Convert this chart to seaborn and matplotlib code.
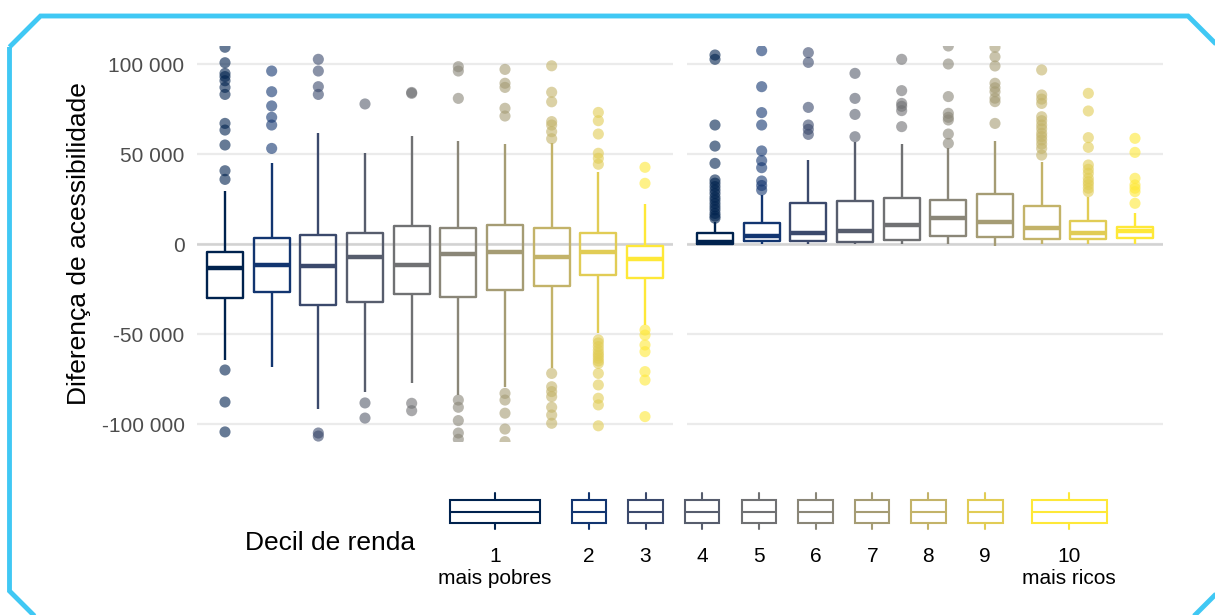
import numpy as np
import pandas as pd
import seaborn as sns
import matplotlib as mpl
import matplotlib.pyplot as plt
from matplotlib.patches import Polygon, Rectangle
from matplotlib.ticker import FuncFormatter

# DECIS DE RENDA
decis = ['1', '2', '3', '4', '5', '6', '7', '8', '9', '10']
rotulos_extra = {'1': 'mais pobres', '10': 'mais ricos'}

# PAINEL A (ESQUERDA) - RESUMO DOS BOXPLOTS
a_lim_inf = [-64400, -68300, -91700, -82200, -77000, -83900, -79300, -69000, -49600, -45000]
a_q1 = [-30000, -26700, -33900, -32200, -27800, -29300, -25600, -23300, -17200, -18700]
a_mediana = [-13300, -11700, -12200, -7200, -11700, -5700, -4300, -7000, -4600, -8300]
a_q3 = [-4300, 3300, 5000, 6100, 10200, 9000, 10600, 9000, 5900, -1100]
a_lim_sup = [29200, 44800, 61500, 50400, 60000, 57400, 55600, 55900, 40200, 22200]
a_outliers = [
    [-70000, -87800, -104400, 35900, 40700, 55000, 63300, 67000, 83100, 87000, 90700, 93000, 94800, 100700, 109300],
    [53100, 66100, 70400, 76700, 84600, 96100],
    [-105000, -106700, 83100, 87400, 96100, 102600],
    [-88300, -96700, 77800],
    [-88500, -92600, 83700, 84200],
    [-86700, -90700, -98100, -105000, -108500, 80900, 96100, 98500],
    [-83000, -86700, -94000, -102800, -109800, 71100, 75400, 87000, 89300, 97000],
    [-71900, -79300, -82000, -84800, -90700, -95000, -99600, 58500, 62400, 66100, 68000, 79000, 84300, 99000],
    [-53300, -55000, -57000, -59000, -60700, -62000, -63500, -65000, -66300, -71900, -78300, -85700, -89400,
     -101000, 44300, 47600, 50400, 61100, 68500, 73100],
    [-47800, -50600, -56100, -59800, -70900, -75600, -95900, 33700, 42600],
]

# PAINEL B (DIREITA)
b_lim_inf = [0, 0, 0, 0, 0, 0, -1100, 0, 0, 0]
b_q1 = [0, 1700, 1700, 1300, 2200, 4400, 4100, 2600, 2800, 3100]
b_mediana = [1000, 4400, 5900, 7400, 10400, 14600, 12400, 8700, 6300, 7400]
b_q3 = [5900, 11900, 22600, 24100, 25700, 24400, 27600, 21100, 12800, 9600]
b_lim_sup = [12400, 27200, 46700, 56900, 55600, 53100, 57200, 45700, 26300, 17000]
b_outliers = [
    [14300, 15500, 17000, 19000, 20700, 22500, 24400, 26000, 28100, 30000, 31900, 33800, 35600, 44800, 54400,
     66100, 102600, 105000],
    [30000, 32500, 35000, 42400, 46300, 51700, 66100, 73000, 87400, 107400],
    [60900, 63700, 66100, 75900, 100900, 106300],
    [59600, 72000, 80900, 94800],
    [65200, 74100, 76500, 78100, 85200, 102600],
    [55900, 61100, 68900, 70400, 72600, 81900, 100000, 110000],
    [67000, 79100, 81000, 84600, 86800, 89300, 98900, 104000, 109300],
    [49400, 53100, 55500, 57800, 59700, 61500, 64000, 66100, 68500, 70700, 78100, 80500, 82800, 96700],
    [29100, 31000, 33000, 34600, 36500, 39300, 41500, 43900, 53700, 59100, 73900, 83700],
    [22600, 29100, 31000, 32800, 36500, 50900, 58700],
]


def monta_caixas(lim_inf, q1, mediana, q3, lim_sup):
    # 5 VALORES POR DECIL: COM whis=(0, 100) O BOXPLOT REPRODUZ O RESUMO
    linhas = []
    for i, d in enumerate(decis):
        for v in (lim_inf[i], q1[i], mediana[i], q3[i], lim_sup[i]):
            linhas.append({'decil': d, 'valor': v})
    return pd.DataFrame(linhas)


def monta_pontos(outliers):
    linhas = [{'decil': d, 'valor': v} for d, lista in zip(decis, outliers) for v in lista]
    return pd.DataFrame(linhas)


sns.set_style('white')
plt.rcParams['font.family'] = ['Liberation Sans', 'DejaVu Sans']

cores = [mpl.colormaps['cividis'](v) for v in np.linspace(0, 1, 10)]
paleta = dict(zip(decis, cores))

W, H = 1215, 615
fig = plt.figure(figsize=(W / 100, H / 100), dpi=100)
ax_a = fig.add_axes([197 / W, 1 - 442 / H, 476 / W, 396 / H])
ax_b = fig.add_axes([687 / W, 1 - 442 / H, 476 / W, 396 / H], sharey=ax_a)

paineis = [
    (ax_a, monta_caixas(a_lim_inf, a_q1, a_mediana, a_q3, a_lim_sup), monta_pontos(a_outliers)),
    (ax_b, monta_caixas(b_lim_inf, b_q1, b_mediana, b_q3, b_lim_sup), monta_pontos(b_outliers)),
]

for ax, caixas, pontos in paineis:
    ax.axhline(0, color='#d2d2d2', lw=1.8, zorder=1)
    sns.boxplot(data=caixas, x='decil', y='valor', hue='decil', order=decis, hue_order=decis,
                palette=paleta, fill=False, whis=(0, 100), showfliers=False, showcaps=False, width=0.77,
                linewidth=1.7, medianprops={'linewidth': 3.2}, legend=False, ax=ax)
    sns.stripplot(data=pontos, x='decil', y='valor', hue='decil', order=decis, hue_order=decis,
                  palette=paleta, jitter=False, size=8, alpha=0.6, linewidth=0, legend=False, ax=ax)
    ax.set_xlim(-0.6, 9.6)
    ax.set_ylim(-110000, 110000)
    ax.set_yticks([-100000, -50000, 0, 50000, 100000])
    ax.yaxis.grid(True, color='#ebebeb', lw=1.6)
    ax.xaxis.grid(False)
    ax.set_axisbelow(True)
    for s in ax.spines.values():
        s.set_visible(False)
    ax.set_xticks([])
    ax.set_xlabel('')
    ax.set_ylabel('')
    ax.tick_params(length=0, pad=9, labelsize=15, labelcolor='#4d4d4d')

ax_a.yaxis.set_major_formatter(FuncFormatter(lambda v, p: f"{int(v):,}".replace(',', ' ')))
ax_a.set_ylabel('Diferença de acessibilidade', fontsize=19, color='black')
ax_a.yaxis.set_label_coords(-0.223, 0.5)
ax_b.tick_params(labelleft=False)

# CAMADA PARA LEGENDA E MOLDURA, EM PIXELS
ov = fig.add_axes([0, 0, 1, 1], zorder=5)
ov.set_xlim(0, W)
ov.set_ylim(H, 0)
ov.axis('off')

moldura = [(9.5, 47), (40.5, 16), (1188, 16), (1219, 47), (1219, 591), (1188, 622), (40.5, 622), (9.5, 591)]
ov.add_patch(Polygon(moldura, closed=True, fill=False, ec='#40c8f4', lw=3.5, clip_on=False))

centros = [495, 588.8, 645.5, 702.2, 758.9, 815.5, 872.2, 928.4, 985.2, 1069]
larguras = [90, 34.5, 34.5, 34.5, 34.5, 34.5, 34.5, 34.5, 35, 75]
ov.text(245, 543, 'Decil de renda', fontsize=19, ha='left', va='center', color='black')
for d, cx, lw_ in zip(decis, centros, larguras):
    cor = paleta[d]
    ov.add_patch(Rectangle((cx - lw_ / 2, 500), lw_, 22.7, fill=False, ec=cor, lw=1.5))
    ov.plot([cx - lw_ / 2, cx + lw_ / 2], [511.7, 511.7], color=cor, lw=1.5)
    ov.plot([cx, cx], [493.3, 500], color=cor, lw=1.5)
    ov.plot([cx, cx], [522.7, 529.3], color=cor, lw=1.5)
    ov.text(cx, 556, d, fontsize=15, ha='center', va='center', color='black')
    if d in rotulos_extra:
        ov.text(cx, 579, rotulos_extra[d], fontsize=15, ha='center', va='center', color='black')

fig.savefig('out.png', dpi=100)
